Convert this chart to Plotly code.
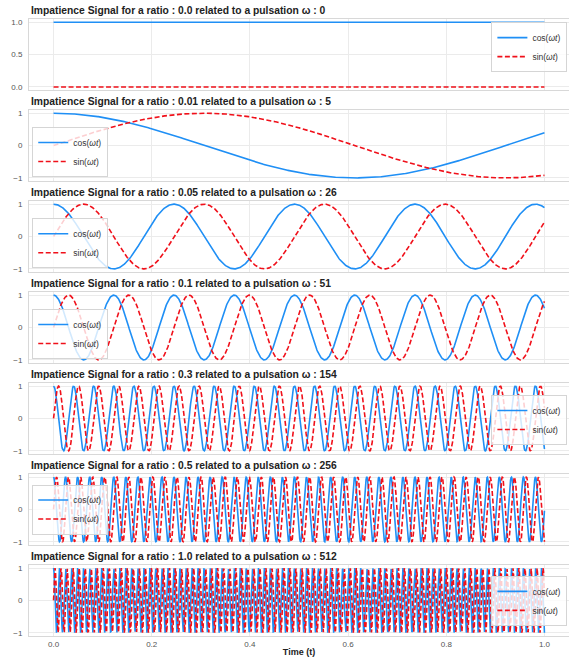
import numpy as np
import plotly.graph_objects as go
from plotly.subplots import make_subplots

# ---- data ----
ratios = [0.0, 0.01, 0.05, 0.1, 0.3, 0.5, 1.0]
max_pulsation = 512
n_samples = 1000
t = np.linspace(0.0, 1.0, n_samples)
x_ticks = [0.0, 0.2, 0.4, 0.6, 0.8, 1.0]
x_tick_labels = ["0.0", "0.2", "0.4", "0.6", "0.8", "1.0"]

# legend placement per panel (paper coords): (x, xanchor, y, yanchor)
legend_pos = [
    (0.997, "right", 0.995, "top"),
    (0.006, "left", 0.744, "bottom"),
    (0.006, "left", 0.596, "bottom"),
    (0.006, "left", 0.449, "bottom"),
    (0.997, "right", 0.350, "middle"),
    (0.006, "left", 0.205, "middle"),
    (0.997, "right", 0.057, "middle"),
]

W, H = 569, 657
ML, MR, MT, MB = 29, 0, 19, 21

n = len(ratios)
fig = make_subplots(rows=n, cols=1, shared_xaxes=True, vertical_spacing=0.032)

BLUE = "#1f8ff5"
RED = "#f0101a"
FONT = "Liberation Sans, Arial, sans-serif"

for i, r in enumerate(ratios):
    w = r * max_pulsation
    leg = "legend" if i == 0 else f"legend{i+1}"
    fig.add_trace(go.Scatter(x=t, y=np.cos(w * t), mode="lines",
                             line=dict(color=BLUE, width=1.6),
                             name="cos(<i>ωt</i>)", legend=leg),
                  row=i + 1, col=1)
    fig.add_trace(go.Scatter(x=t, y=np.sin(w * t), mode="lines",
                             line=dict(color=RED, width=1.6, dash="5px,2.5px"),
                             name="sin(<i>ωt</i>)", legend=leg),
                  row=i + 1, col=1)
    lx, lxa, ly, lya = legend_pos[i]
    fig.update_layout({leg: dict(x=lx, xanchor=lxa, y=ly, yanchor=lya,
                                 bgcolor="rgba(255,255,255,0.8)",
                                 bordercolor="#d5d5d5", borderwidth=1,
                                 font=dict(size=8.5, color="#333", family=FONT),
                                 itemwidth=30, tracegroupgap=0)})
    if r == 0:
        fig.update_yaxes(range=[-0.05, 1.05], tickvals=[0.0, 0.5, 1.0],
                         ticktext=["0.0", "0.5", "1.0"], row=i + 1, col=1)
    else:
        fig.update_yaxes(range=[-1.1, 1.1], tickvals=[-1, 0, 1],
                         ticktext=["−1", "0", "1"], row=i + 1, col=1)

fig.update_xaxes(range=[-0.05, 1.05], tickvals=x_ticks, ticktext=x_tick_labels,
                 showgrid=True, gridcolor="#ebebeb", gridwidth=1,
                 showline=True, linecolor="#d8d8d8", linewidth=1, mirror=True,
                 zeroline=False, ticks="", tickfont=dict(size=8, color="#555", family=FONT))
fig.update_yaxes(showgrid=True, gridcolor="#ebebeb", gridwidth=1,
                 showline=True, linecolor="#d8d8d8", linewidth=1, mirror=True,
                 zeroline=False, ticks="", ticklabelstandoff=4,
                 tickfont=dict(size=8, color="#555", family=FONT))
fig.update_xaxes(title=dict(text="<b>Time (t)</b>", font=dict(size=9, color="#222", family=FONT),
                            standoff=2), row=n, col=1)

annotations = []
for i, r in enumerate(ratios):
    w = r * max_pulsation
    ya = fig.layout["yaxis" if i == 0 else f"yaxis{i+1}"]
    top = ya.domain[1]
    annotations.append(dict(
        text=f"<b>Impatience Signal for a ratio : {r} related to a pulsation ω : {round(w)}</b>",
        x=0, xref="paper", xanchor="left", y=top, yref="paper", yanchor="bottom",
        yshift=1, showarrow=False, font=dict(size=10.3, color="#222", family=FONT)))
fig.update_layout(annotations=annotations)

fig.update_layout(width=W, height=H, margin=dict(l=ML, r=MR, t=MT, b=MB),
                  plot_bgcolor="white", paper_bgcolor="white",
                  font=dict(family=FONT))
fig.write_html("out.html", config={"displayModeBar": False},
               post_script="document.body.style.margin='0';document.body.style.overflow='hidden';")
